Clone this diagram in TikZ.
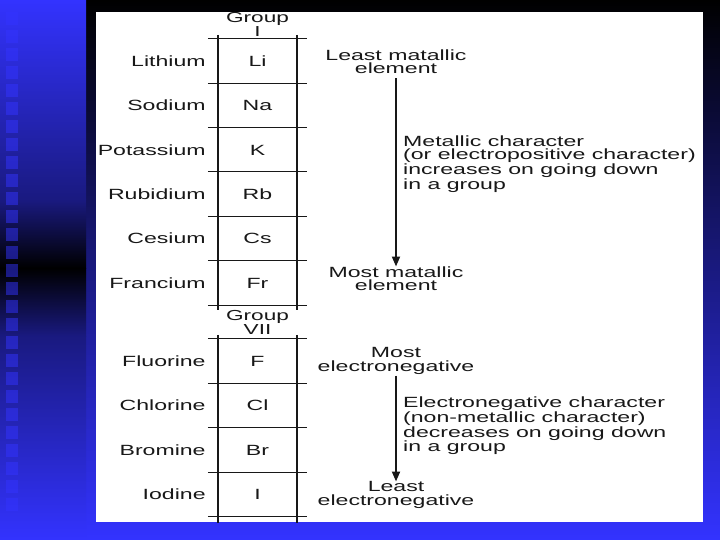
\documentclass[tikz,border=0pt]{standalone}
\usepackage{fontspec}
\usepackage{tikz}
\usetikzlibrary{arrows.meta, positioning}
\newfontfamily\diagfont[FakeStretch=1.56]{Liberation Sans}
\definecolor{bgblue}{RGB}{51,51,255}
\definecolor{inkgray}{RGB}{24,24,24}
\tikzset{
  cell/.style={minimum width=79pt, minimum height=44pt, inner sep=0pt,
    text height=10.7pt, text depth=0pt},
  elname/.style={inner sep=0pt, text height=10.7pt, text depth=0pt},
  header/.style={inner sep=0pt, align=center,
    font=\diagfont\fontsize{14.5pt}{12.5pt}\selectfont},
  note/.style={inner sep=0pt, align=center},
  para/.style={inner sep=0pt, align=left, anchor=north west},
  hline/.style={line width=1pt, color=inkgray},
  vline/.style={line width=1.6pt, color=inkgray},
  arrow/.style={-{Triangle[width=8pt,length=10pt]}, line width=1.9pt, color=inkgray}
}

\begin{document}
\begin{tikzpicture}[x=1pt, y=-1pt, font=\diagfont\fontsize{14.8pt}{13.5pt}\selectfont, text=inkgray]
  % slide background
  \fill[bgblue] (0,0) rectangle (720,540);
  \shade[top color=black, middle color=bgblue!70!black, bottom color=bgblue] (86,0) rectangle (720,540);
  \shade[top color=bgblue, bottom color=bgblue!50!black] (0,0) rectangle (86,200);
  \shade[top color=bgblue!50!black, bottom color=black] (0,200) rectangle (86,268);
  \shade[top color=black, bottom color=bgblue!50!black] (0,268) rectangle (86,336);
  \shade[top color=bgblue!50!black, bottom color=bgblue] (0,336) rectangle (86,540);
  \foreach \y in {12,30,...,498}
    \fill[bgblue, opacity=0.5] (6,\y) rectangle (18,\y+13);
  \fill[white] (96,12) rectangle (703,522);

  % group I column
  \node[cell] (li) at (257.5,61) {Li};
  \node[cell, below=0pt of li] (na) {Na};
  \node[cell, below=0pt of na] (k) {K};
  \node[cell, below=0pt of k] (rb) {Rb};
  \node[cell, below=0pt of rb] (cs) {Cs};
  \node[cell, below=0pt of cs] (fr) {Fr};
  \node[header, above=2pt of li] (groupone) {Group\\I};

  \node[elname, left=12pt of li] (lithium) {Lithium};
  \node[elname, left=12pt of na] (sodium) {Sodium};
  \node[elname, left=12pt of k] (potassium) {Potassium};
  \node[elname, left=12pt of rb] (rubidium) {Rubidium};
  \node[elname, left=12pt of cs] (cesium) {Cesium};
  \node[elname, left=12pt of fr] (francium) {Francium};

  % group VII column
  \node[cell] (f) at (257.5,361) {F};
  \node[cell, below=0pt of f] (cl) {Cl};
  \node[cell, below=0pt of cl] (br) {Br};
  \node[cell, below=0pt of br] (io) {I};
  \node[header, above=4pt of f] (groupseven) {Group\\VII};

  \node[elname, left=12pt of f] (fluorine) {Fluorine};
  \node[elname, left=12pt of cl] (chlorine) {Chlorine};
  \node[elname, left=12pt of br] (bromine) {Bromine};
  \node[elname, left=12pt of io] (iodine) {Iodine};

  % table rules
  \foreach \c in {li,na,k,rb,cs,fr,f,cl,br,io}
    \draw[hline] ([xshift=-10pt]\c.north west) -- ([xshift=10pt]\c.north east);
  \draw[hline] ([xshift=-10pt]fr.south west) -- ([xshift=10pt]fr.south east);
  \draw[hline] ([xshift=-10pt]io.south west) -- ([xshift=10pt]io.south east);
  \draw[vline] ([yshift=4pt]li.north west) -- ([yshift=-5pt]fr.south west);
  \draw[vline] ([yshift=4pt]li.north east) -- ([yshift=-5pt]fr.south east);
  \draw[vline] ([yshift=4pt]f.north west) -- ([yshift=-7pt]io.south west);
  \draw[vline] ([yshift=4pt]f.north east) -- ([yshift=-7pt]io.south east);

  % metallic trend
  \node[note, anchor=north] (leastmet) at (396,49.5) {Least matallic\\element};
  \node[note, anchor=north] (mostmet) at (396,266.5) {Most matallic\\element};
  \draw[arrow] ([yshift=-4pt]leastmet.south) -- (mostmet.north);
  \node[para] (metpara) at (403,135.5) {Metallic character\\(or electropositive character)\\increases on going down\\in a group};

  % electronegative trend
  \node[note, anchor=north] (mosteneg) at (396,347.5) {Most\\electronegative};
  \node[note, anchor=north] (leasteneg) at (396,481.5) {Least\\electronegative};
  \draw[arrow] ([yshift=-1pt]mosteneg.south) -- (leasteneg.north);
  \node[para] (enegpara) at (403,396.5) {Electronegative character\\(non-metallic character)\\decreases on going down\\in a group};
\end{tikzpicture}
\end{document}
